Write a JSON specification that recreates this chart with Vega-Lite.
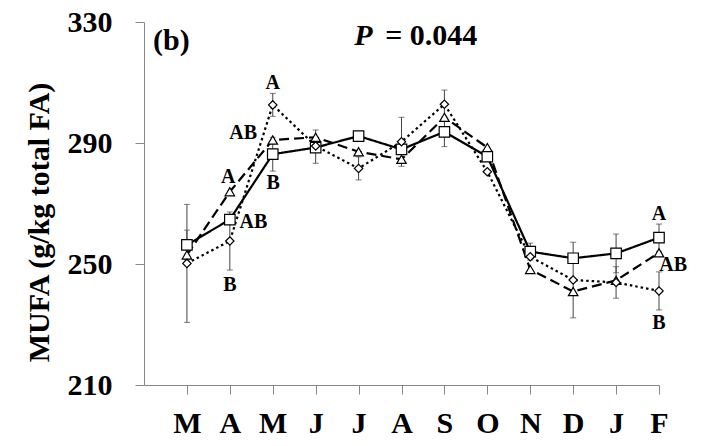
{
  "$schema": "https://vega.github.io/schema/vega-lite/v6.json",
  "width": 515,
  "height": 363,
  "autosize": "none",
  "padding": {"left": 144, "top": 22, "right": 43, "bottom": 61},
  "background": "white",
  "config": {
    "view": {"stroke": null},
    "font": "Liberation Serif"
  },
  "datasets": {
    "means": [
      {"m": 1, "series": "G1", "value": 256.3}, {"m": 2, "series": "G1", "value": 264.7}, {"m": 3, "series": "G1", "value": 286.3}, {"m": 4, "series": "G1", "value": 288.5}, {"m": 5, "series": "G1", "value": 292.3}, {"m": 6, "series": "G1", "value": 287.9}, {"m": 7, "series": "G1", "value": 293.7}, {"m": 8, "series": "G1", "value": 285.5}, {"m": 9, "series": "G1", "value": 254.1}, {"m": 10, "series": "G1", "value": 251.9}, {"m": 11, "series": "G1", "value": 253.5}, {"m": 12, "series": "G1", "value": 258.7},
      {"m": 1, "series": "G2", "value": 253.0}, {"m": 2, "series": "G2", "value": 273.9}, {"m": 3, "series": "G2", "value": 291.0}, {"m": 4, "series": "G2", "value": 291.9}, {"m": 5, "series": "G2", "value": 287.1}, {"m": 6, "series": "G2", "value": 284.6}, {"m": 7, "series": "G2", "value": 298.5}, {"m": 8, "series": "G2", "value": 288.5}, {"m": 9, "series": "G2", "value": 248.2}, {"m": 10, "series": "G2", "value": 240.9}, {"m": 11, "series": "G2", "value": 244.6}, {"m": 12, "series": "G2", "value": 253.7},
      {"m": 1, "series": "G3", "value": 250.2}, {"m": 2, "series": "G3", "value": 257.6}, {"m": 3, "series": "G3", "value": 302.6}, {"m": 4, "series": "G3", "value": 289.0}, {"m": 5, "series": "G3", "value": 281.6}, {"m": 6, "series": "G3", "value": 290.4}, {"m": 7, "series": "G3", "value": 302.8}, {"m": 8, "series": "G3", "value": 280.5}, {"m": 9, "series": "G3", "value": 252.4}, {"m": 10, "series": "G3", "value": 244.7}, {"m": 11, "series": "G3", "value": 243.9}, {"m": 12, "series": "G3", "value": 241.1}
    ],
    "errors": [
      {"m": 1, "series": "G3", "lo": 230.7, "hi": 269.7},
      {"m": 1, "series": "G1", "lo": 251.4, "hi": 261.2},
      {"m": 2, "series": "G3", "lo": 248.0, "hi": 267.2},
      {"m": 3, "series": "G3", "lo": 298.8, "hi": 306.4},
      {"m": 3, "series": "G1", "lo": 280.7, "hi": 291.9},
      {"m": 4, "series": "G1", "lo": 283.3, "hi": 294.3},
      {"m": 5, "series": "G3", "lo": 277.8, "hi": 285.4},
      {"m": 6, "series": "G3", "lo": 282.3, "hi": 298.5},
      {"m": 7, "series": "G3", "lo": 298.1, "hi": 307.5},
      {"m": 7, "series": "G1", "lo": 288.8, "hi": 298.6},
      {"m": 9, "series": "G1", "lo": 251.3, "hi": 256.9},
      {"m": 10, "series": "G3", "lo": 232.2, "hi": 257.2},
      {"m": 11, "series": "G1", "lo": 247.1, "hi": 259.9},
      {"m": 11, "series": "G3", "lo": 238.7, "hi": 249.1},
      {"m": 12, "series": "G1", "lo": 254.2, "hi": 263.2},
      {"m": 12, "series": "G3", "lo": 234.8, "hi": 247.4}
    ],
    "letters": [
      {"m": 1.96, "y": 278.9, "label": "A"},
      {"m": 2.55, "y": 264.0, "label": "AB"},
      {"m": 2.0, "y": 243.1, "label": "B"},
      {"m": 3.0, "y": 309.7, "label": "A"},
      {"m": 2.31, "y": 293.4, "label": "AB"},
      {"m": 3.01, "y": 276.7, "label": "B"},
      {"m": 12.0, "y": 266.5, "label": "A"},
      {"m": 12.33, "y": 249.7, "label": "AB"},
      {"m": 12.0, "y": 230.4, "label": "B"}
    ]
  },
  "layer": [
    {
      "data": {"name": "errors"},
      "mark": {"type": "rule", "color": "#444444", "strokeWidth": 1},
      "encoding": {
        "x": {"field": "m", "type": "quantitative", "scale": {"domain": [0, 12], "nice": false, "zero": false},
          "axis": {"values": [1,2,3,4,5,6,7,8,9,10,11,12], "title": null, "grid": false,
            "labelExpr": "['','M','A','M','J','J','A','S','O','N','D','J','F'][datum.value]",
            "labelFont": "Liberation Serif", "labelFontSize": 30, "labelFontWeight": "bold", "labelColor": "black",
            "tickSize": 9, "labelPadding": 14, "domainColor": "#888888", "tickColor": "#888888", "labelFlush": false, "labelOverlap": false}},
        "y": {"field": "lo", "type": "quantitative", "scale": {"domain": [210, 330], "nice": false, "zero": false},
          "axis": {"values": [210, 250, 290, 330], "title": "MUFA (g/kg total FA)", "grid": false,
            "labelFont": "Liberation Serif", "labelFontSize": 30, "labelFontWeight": "bold", "labelColor": "black",
            "titleFont": "Liberation Serif", "titleFontSize": 30, "titleFontWeight": "bold", "titleColor": "black",
            "titleY": 200,
            "tickSize": 9, "labelPadding": 23, "titlePadding": 13, "domainColor": "#888888", "tickColor": "#888888", "labelFlush": false}},
        "y2": {"field": "hi"}
      }
    },
    {
      "data": {"name": "errors"},
      "mark": {"type": "tick", "color": "#444444", "orient": "horizontal", "thickness": 1, "size": 6},
      "encoding": {"x": {"field": "m", "type": "quantitative"}, "y": {"field": "lo", "type": "quantitative"}}
    },
    {
      "data": {"name": "errors"},
      "mark": {"type": "tick", "color": "#444444", "orient": "horizontal", "thickness": 1, "size": 6},
      "encoding": {"x": {"field": "m", "type": "quantitative"}, "y": {"field": "hi", "type": "quantitative"}}
    },
    {
      "data": {"name": "means"},
      "mark": {"type": "line", "color": "black", "strokeWidth": 2.2},
      "encoding": {
        "x": {"field": "m", "type": "quantitative"},
        "y": {"field": "value", "type": "quantitative"},
        "detail": {"field": "series"},
        "strokeDash": {"field": "series", "type": "nominal", "scale": {"domain": ["G1", "G2", "G3"], "range": [[1, 0], [10, 5], [2.5, 3]]}, "legend": null}
      }
    },
    {
      "data": {"name": "means"},
      "mark": {"type": "point", "filled": true, "fill": "white", "stroke": "black", "strokeWidth": 1.2, "opacity": 1},
      "encoding": {
        "x": {"field": "m", "type": "quantitative"},
        "y": {"field": "value", "type": "quantitative"},
        "shape": {"field": "series", "type": "nominal", "scale": {"domain": ["G1", "G2", "G3"], "range": ["square", "triangle-up", "diamond"]}, "legend": null},
        "size": {"field": "series", "type": "nominal", "scale": {"domain": ["G1", "G2", "G3"], "range": [110, 70, 70]}, "legend": null}
      }
    },
    {
      "data": {"name": "letters"},
      "mark": {"type": "text", "font": "Liberation Serif", "fontSize": 20, "fontWeight": "bold", "color": "black", "baseline": "middle", "align": "center"},
      "encoding": {
        "x": {"field": "m", "type": "quantitative"},
        "y": {"field": "y", "type": "quantitative"},
        "text": {"field": "label"}
      }
    },
    {
      "data": {"values": [{"x": 0.21, "y": 320.8, "t": "(b)"}, {"x": 5.62, "y": 322.4, "t": "= 0.044"}]},
      "mark": {"type": "text", "font": "Liberation Serif", "fontSize": 30, "fontWeight": "bold", "color": "black", "baseline": "alphabetic", "align": "left"},
      "encoding": {
        "x": {"field": "x", "type": "quantitative"},
        "y": {"field": "y", "type": "quantitative"},
        "text": {"field": "t"}
      }
    },
    {
      "data": {"values": [{"x": 4.9, "y": 322.4, "t": "P"}]},
      "mark": {"type": "text", "font": "Liberation Serif", "fontSize": 30, "fontWeight": "bold", "fontStyle": "italic", "color": "black", "baseline": "alphabetic", "align": "left"},
      "encoding": {
        "x": {"field": "x", "type": "quantitative"},
        "y": {"field": "y", "type": "quantitative"},
        "text": {"field": "t"}
      }
    }
  ]
}
